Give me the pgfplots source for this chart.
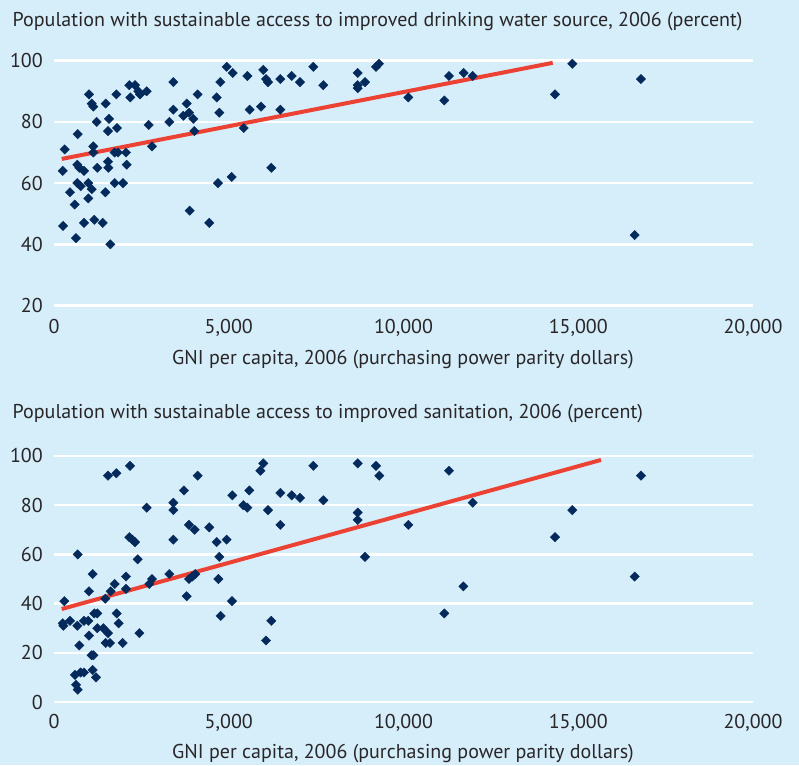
\documentclass[border=0pt]{standalone}
\usepackage{pgfplots}
\pgfplotsset{compat=1.18}
\usepackage{fontspec}
\setmainfont{PT Sans}
\definecolor{bg}{RGB}{214,237,250}
\definecolor{mk}{RGB}{4,42,92}
\definecolor{rl}{RGB}{236,66,52}
\definecolor{tx}{RGB}{40,38,40}
\pgfplotstableread{
x y
249 64
306 71
258 46
678 76
458 57
592 53
629 42
667 66
725 65
858 64
667 60
763 59
858 47
982 55
1001 89
1078 86
1125 85
1221 80
1125 72
1125 70
982 60
1078 58
1154 48
1240 65
1393 47
1479 86
1574 81
1545 77
1784 89
1803 78
1545 67
1555 65
1469 57
1612 40
1736 70
1831 70
1736 60
1974 60
2060 70
2080 66
2155 92
2318 92
2184 88
2413 90
2461 89
2652 90
2709 79
2804 72
3300 80
3414 84
3414 93
3700 82
3796 86
3863 83
3986 81
4014 77
4110 89
3882 51
4443 47
4692 60
4655 88
4730 83
4759 93
4940 98
5112 96
5084 62
5428 78
5532 95
5598 84
5923 85
5989 97
6066 94
6123 93
6218 65
6476 94
6476 84
6801 95
7039 93
7420 98
7706 92
8689 96
8689 92
8689 91
8898 93
9213 98
9299 99
10138 88
11167 87
11302 95
11722 96
11980 95
14830 99
14335 89
16795 94
16614 43
}\water
\pgfplotstableread{
x y
295 41
249 32
270 31
458 33
678 60
667 31
725 23
601 11
630 7
678 5
763 12
858 12
858 33
982 33
1001 45
1001 27
1106 52
1078 19
1130 19
1106 13
1202 10
1154 36
1240 36
1240 30
1412 30
1469 42
1545 92
1784 93
1545 28
1479 24
1602 24
1622 45
1736 48
1793 36
1851 32
1965 24
2060 51
2060 46
2175 96
2155 67
2241 66
2318 65
2394 58
2442 28
2652 79
2728 48
2804 50
3300 52
3414 66
3414 78
3414 81
3719 86
3796 43
3863 72
3863 50
3958 51
4025 70
4043 52
4110 92
4443 71
4655 65
4730 59
4702 50
4769 35
4940 66
5093 41
5102 84
5417 80
5532 79
5589 86
5904 94
5989 97
6123 78
6066 25
6218 33
6476 85
6476 72
6801 84
7039 83
7420 96
7706 82
8689 97
8689 77
8689 74
8898 59
9213 96
9308 92
10138 72
11167 36
11302 94
11712 47
11980 81
14830 78
14335 67
16795 92
16614 51
}\sanit
\newcommand{\fs}{\fontsize{20}{24}\selectfont}
\begin{document}
\begin{tikzpicture}
\useasboundingbox (0pt,0pt) rectangle (799pt,765pt);
\fill[bg] (0pt,0pt) rectangle (799pt,765pt);
\pgfplotsset{
  myaxis/.style={
    scale only axis, anchor=south west, width=699pt,
    xmin=0, xmax=20000, clip=false,
    axis line style={draw=none}, major tick length=0pt,
    ymajorgrids, grid style={white, line width=2.6pt},
    xtick={0,5000,10000,15000,20000},
    xticklabels={0,{5,000},{10,000},{15,000},{20,000}},
    scaled x ticks=false,
    /pgf/number format/assume math mode=true,
    every tick label/.append style={font=\fs, text=tx},
    yticklabel style={anchor=east, inner sep=0pt, xshift=-11pt},
  },
  pts/.style={only marks, mark=square*, mark size=3.3pt, mark options={rotate=45, fill=mk, draw=mk}},
}
\begin{axis}[myaxis, at={(54pt,459.5pt)}, height=244.8pt, ymin=20, ymax=100, ytick={20,40,60,80,100},
  xticklabel style={anchor=base, yshift=-27.8pt}]
\addplot[pts] table[x=x,y=y] {\water};
\addplot[rl, line width=4pt] coordinates {(220,67.9) (14270,99.3)};
\end{axis}
\begin{axis}[myaxis, at={(54pt,63pt)}, height=246pt, ymin=0, ymax=100, ytick={0,20,40,60,80,100},
  xticklabel style={anchor=base, yshift=-26.3pt}]
\addplot[pts] table[x=x,y=y] {\sanit};
\addplot[rl, line width=4pt] coordinates {(220,37.8) (15650,98.4)};
\end{axis}
\node[anchor=base west, inner sep=0pt, text=tx, font=\fs] at (12.5pt,738.3pt) {Population with sustainable access to improved drinking water source, 2006 (percent)};
\node[anchor=base, inner sep=0pt, text=tx, font=\fs] at (403pt,400.7pt) {GNI per capita, 2006 (purchasing power parity dollars)};
\node[anchor=base west, inner sep=0pt, text=tx, font=\fs] at (12.5pt,346pt) {Population with sustainable access to improved sanitation, 2006 (percent)};
\node[anchor=base, inner sep=0pt, text=tx, font=\fs] at (403pt,6.7pt) {GNI per capita, 2006 (purchasing power parity dollars)};
\end{tikzpicture}
\end{document}
